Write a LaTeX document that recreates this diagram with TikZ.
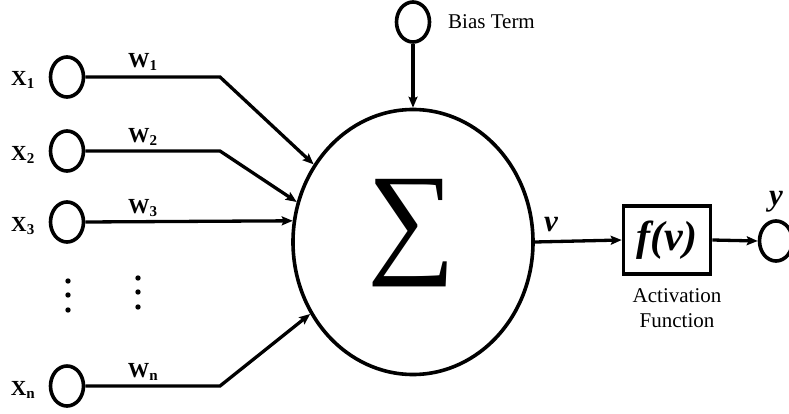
\documentclass[tikz,border=0pt]{standalone}
\usepackage{fontspec}
\setmainfont{Liberation Serif}
\usetikzlibrary{arrows.meta,positioning,shapes.geometric}

\begin{document}
\begin{tikzpicture}[x=1pt,y=-1pt,
  unit/.style={draw,ellipse,line width=3.6pt,minimum width=33pt,minimum height=40pt,inner sep=0pt},
  wire/.style={line width=3.3pt},
  arr/.style={wire,-{Stealth[length=11pt,width=9pt,inset=2pt]}},
  lbl/.style={font=\fontsize{21.5}{23}\selectfont\bfseries,inner sep=0pt},
  txt/.style={font=\fontsize{21}{25}\selectfont,inner sep=0pt,align=center},
  big/.style={font=\fontsize{#1}{#1}\selectfont\bfseries\itshape,inner sep=0pt}]
  \useasboundingbox (0,0) rectangle (789,414);
  % inputs
  \node[unit] (x1) at (67,77) {};
  \node[unit] (x2) at (67,151) {};
  \node[unit] (x3) at (67,222) {};
  \node[unit] (xn) at (67,386) {};
  \node[lbl] (lx1) at (23,80) {X\textsubscript{1}};
  \node[lbl] (lx2) at (23,155) {X\textsubscript{2}};
  \node[lbl] (lx3) at (23,226) {X\textsubscript{3}};
  \node[lbl] (lxn) at (23,390) {X\textsubscript{n}};
  \node[lbl] (w1) at (143,62) {W\textsubscript{1}};
  \node[lbl] (w2) at (143,137) {W\textsubscript{2}};
  \node[lbl] (w3) at (143,208) {W\textsubscript{3}};
  \node[lbl] (wn) at (143,372) {W\textsubscript{n}};
  % dots
  \foreach \y in {281,295,310} \fill (68,\y) circle (2.7);
  \foreach \y in {278,292,307} \fill (138,\y) circle (2.7);
  % summing junction
  \node[draw,ellipse,line width=3.6pt,minimum width=240pt,minimum height=265pt] (sum) at (413,242) {};
  \node[font=\fontsize{124}{124}\selectfont,inner sep=0pt] (sig) at (412,233) {∑};
  \coordinate (b1) at (220,77);
  \coordinate (b2) at (220,151);
  \coordinate (bn) at (220,386);
  \draw[arr] (x1.east) -- (b1) -- (sum.142);
  \draw[arr] (x2.east) -- (b2) -- (sum.161);
  \draw[arr] (x3.east) -- (sum.170);
  \draw[arr] (xn.east) -- (bn) -- (sum.215);
  % bias
  \node[unit] (bias) at (413,22) {};
  \node[txt,anchor=west] (lbias) at (448,22) {Bias Term};
  \draw[arr] (bias.south) -- (sum.north);
  % activation
  \node[draw,line width=3.6pt,minimum width=87pt,minimum height=68pt] (fv) at (667,240) {};
  \node[big=42] (lfv) at (667,240) {f(v)};
  \node[txt] (lact) at (677,308) {Activation\\Function};
  \node[big=31] (lv) at (551,225) {v};
  \draw[arr] (sum.east) -- (fv.west);
  \node[unit] (out) at (776,241) {};
  \node[big=31] (ly) at (776,202) {y};
  \draw[arr] (fv.east) -- (out.west);
\end{tikzpicture}
\end{document}
